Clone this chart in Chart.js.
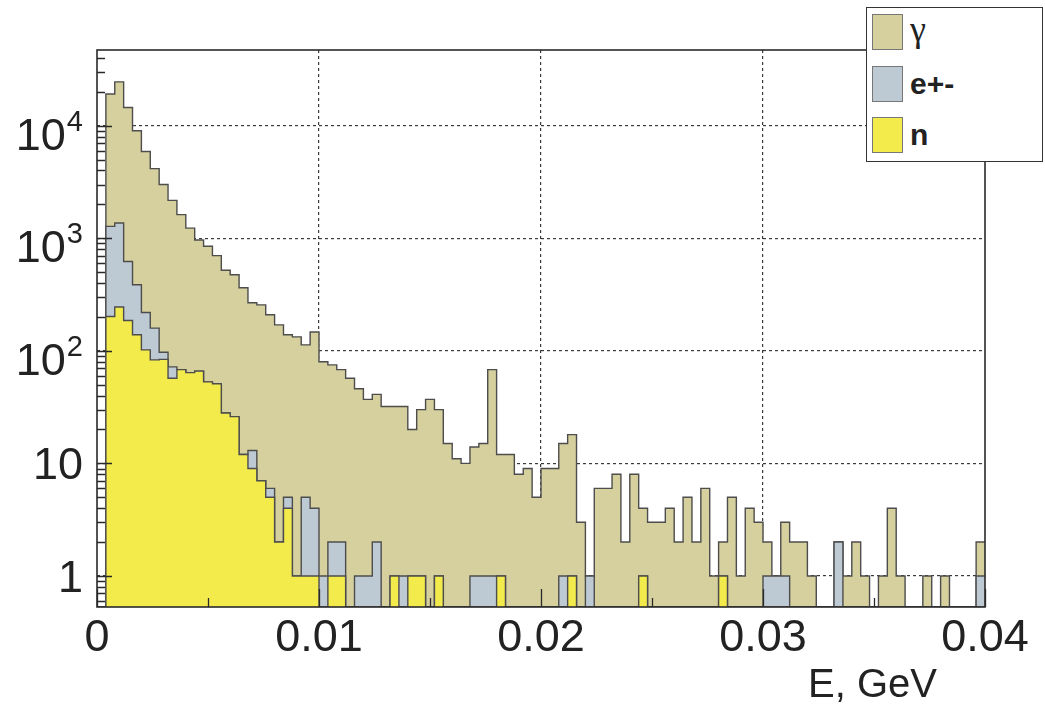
<!DOCTYPE html>
<html>
<head>
<meta charset="utf-8">
<script src="https://cdn.jsdelivr.net/npm/chart.js@4.4.1/dist/chart.umd.min.js"></script>
<style>
  html, body { margin: 0; padding: 0; background: #ffffff; }
  #wrap { position: relative; width: 1045px; height: 709px; overflow: hidden; }
  #legend { position: absolute; left: 866px; top: 7px; width: 177px; height: 155px;
            border: 1.5px solid #333; background: #fff; box-sizing: border-box; }
  .row { position: absolute; left: 5px; height: 36px; display: flex; align-items: center; }
  .sw { width: 31px; height: 36px; border: 1px solid #777; box-sizing: border-box; margin-right: 7px; }
  .lbl { font-family: 'Liberation Sans', Arial, sans-serif; font-size: 30px; font-weight: bold; color: #222; }
  .greek { font-family: 'Liberation Serif', 'DejaVu Serif', serif; font-size: 36px; font-weight: normal; color: #222; margin-top: -6px; }
  #xtitle { position: absolute; left: 808px; top: 663px; font-family: 'Liberation Sans', Arial, sans-serif;
            font-size: 40px; line-height: 1; color: #222; white-space: nowrap; }
  .ylab { position: absolute; right: 962px; font-family: 'Liberation Sans', Arial, sans-serif;
          font-size: 45px; line-height: 1; color: #222; white-space: nowrap; }
  .ylab .sup { font-size: 29px; position: relative; top: -19px; margin-left: 1px; }
</style>
</head>
<body>
<div id="wrap">
  <canvas id="c" width="1045" height="709"></canvas>
  <div id="legend"></div>
  <div id="xtitle">E, GeV</div>
</div>
<script>
// ---- data (counts per 0.0004 GeV bin, 100 bins from 0 to 0.04 GeV) ----
const BIN_WIDTH = 0.0004;
const N_BINS = 100;

const neutronCounts = [
  0, 202, 245, 186, 139, 102, 83, 84, 57, 68,
  64, 66, 53, 51, 28, 26, 12, 9, 7, 5,
  2, 4, 1, 1, 1, 0, 1, 1, 0, 0,
  0, 0, 0, 1, 0, 1, 1, 0, 1, 0,
  0, 0, 0, 0, 0, 1, 0, 0, 0, 0,
  0, 0, 0, 1, 0, 0, 0, 0, 0, 0,
  0, 1, 0, 0, 0, 0, 0, 0, 0, 0,
  1, 0, 0, 0, 0, 0, 0, 0, 0, 0,
  0, 0, 0, 0, 0, 0, 0, 0, 0, 0,
  0, 0, 0, 0, 0, 0, 0, 0, 0, 0
];

const electronCounts = [
  0, 1072, 1120, 436, 247, 117, 76, 13, 15, 0,
  0, 0, 0, 0, 0, 0, 0, 4, 0, 1,
  0, 1, 0, 4, 3, 1, 1, 1, 0, 1,
  1, 2, 0, 0, 1, 0, 0, 0, 0, 0,
  0, 0, 1, 1, 1, 0, 0, 0, 0, 0,
  0, 0, 1, 0, 0, 1, 0, 0, 0, 0,
  0, 0, 0, 0, 0, 0, 0, 0, 0, 0,
  0, 0, 0, 0, 0, 1, 1, 1, 0, 0,
  0, 0, 0, 2, 0, 0, 0, 0, 0, 0,
  0, 0, 0, 0, 0, 0, 0, 0, 0, 1
];

const gammaCounts = [
  0, 17826, 23135, 13878, 8614, 5681, 3991, 2903, 2098, 1552,
  1166, 899, 797, 649, 492, 448, 351, 254, 249, 203,
  168, 134, 132, 108, 143, 79, 73, 66, 57, 45,
  36, 39, 32, 31, 31, 19, 29, 37, 29, 15,
  11, 10, 13, 14, 67, 11, 12, 8, 9, 5,
  9, 9, 14, 17, 3, 0, 6, 6, 8, 2,
  8, 3, 3, 3, 4, 2, 5, 2, 6, 1,
  1, 5, 1, 4, 3, 1, 0, 2, 2, 2,
  1, 0, 0, 0, 1, 2, 1, 0, 1, 4,
  1, 0, 0, 1, 0, 1, 0, 0, 0, 1
];

const X_TICKS = [0, 0.01, 0.02, 0.03, 0.04];
const X_TICK_LABELS = ['0', '0.01', '0.02', '0.03', '0.04'];
const Y_TICKS = [1, 10, 100, 1000, 10000];
const Y_TICK_BASES = ['1', '10', '10', '10', '10'];
const Y_TICK_EXPONENTS = ['', '', '2', '3', '4'];

const X_MIN = 0, X_MAX = 0.04;
const Y_MIN = 0.53, Y_MAX = 47000;

// ---- styles ----
const COLOR_GAMMA = '#d5d09d';
const COLOR_ELEC = '#bdc9d3';
const COLOR_NEUT = '#f3ea4b';
const OUTLINE = '#4d4d4d';
const AXIS = '#2a2a2a';
const FONT = "'Liberation Sans', Arial, Helvetica, sans-serif";

// stacked sums (THStack style): n, n+e, n+e+gamma
const stackN = neutronCounts.slice();
const stackNE = neutronCounts.map((v, i) => v + electronCounts[i]);
const stackAll = stackNE.map((v, i) => v + gammaCounts[i]);

function stepPoints(values) {
  const pts = values.map((v, i) => ({ x: i * BIN_WIDTH, y: v > 0 ? v : Y_MIN }));
  pts.push({ x: N_BINS * BIN_WIDTH, y: pts[pts.length - 1].y });
  return pts;
}

function histDataset(label, values, color) {
  return {
    label, data: stepPoints(values),
    backgroundColor: color, borderColor: OUTLINE, borderWidth: 1.4,
    fill: 'start', stepped: 'before', pointRadius: 0, pointHoverRadius: 0,
    tension: 0
  };
}

// legend (HTML, real text)
const legendItems = [
  { text: '\u03B3', color: COLOR_GAMMA, cls: 'greek', top: 6 },
  { text: 'e+-', color: COLOR_ELEC, cls: 'lbl', top: 58 },
  { text: 'n', color: COLOR_NEUT, cls: 'lbl', top: 109 }
];
const legendEl = document.getElementById('legend');
legendItems.forEach(it => {
  const row = document.createElement('div');
  row.className = 'row';
  row.style.top = it.top + 'px';
  const sw = document.createElement('div');
  sw.className = 'sw';
  sw.style.background = it.color;
  const t = document.createElement('span');
  t.className = it.cls;
  t.textContent = it.text;
  row.appendChild(sw); row.appendChild(t);
  legendEl.appendChild(row);
});

// y tick labels as real text with superscripts, placed through the chart's y scale
const yLabels = {
  id: 'yLabels',
  afterDraw(chart) {
    if (chart.$yLabelsDone) return;
    chart.$yLabelsDone = true;
    const wrap = document.getElementById('wrap');
    const y = chart.scales.y;
    Y_TICKS.forEach((v, i) => {
      const py = y.getPixelForValue(v);
      const el = document.createElement('div');
      el.className = 'ylab';
      const hasExp = Y_TICK_EXPONENTS[i] !== '';
      el.style.top = (py - 22 + (hasExp ? 8 : 0)) + 'px';
      el.appendChild(document.createTextNode(Y_TICK_BASES[i]));
      if (hasExp) {
        const s = document.createElement('span');
        s.className = 'sup';
        s.textContent = Y_TICK_EXPONENTS[i];
        el.appendChild(s);
      }
      wrap.appendChild(el);
    });
  }
};

// frame + inward tick marks (ROOT style), drawn over the histograms
const frameTicks = {
  id: 'frameTicks',
  afterDatasetsDraw(chart) {
    const { ctx, chartArea: a, scales: { x, y } } = chart;
    ctx.save();
    ctx.strokeStyle = AXIS;
    ctx.lineWidth = 1.3;
    ctx.beginPath();
    for (let d = -1; d <= 4; d++) {
      for (let m = 1; m <= 9; m++) {
        const v = m * Math.pow(10, d);
        if (v < Y_MIN || v > Y_MAX) continue;
        const py = Math.round(y.getPixelForValue(v)) + 0.5;
        const len = m === 1 ? 15 : 8;
        ctx.moveTo(a.left, py); ctx.lineTo(a.left + len, py);
      }
    }
    for (let k = 0; k <= 8; k++) {
      const v = k * 0.005;
      const px = Math.round(x.getPixelForValue(v)) + 0.5;
      const len = k % 2 === 0 ? 18 : 9;
      ctx.moveTo(px, a.bottom); ctx.lineTo(px, a.bottom - len);
    }
    ctx.stroke();
    ctx.lineWidth = 1.6;
    ctx.strokeRect(a.left, a.top, a.right - a.left, a.bottom - a.top);
    ctx.restore();
  }
};

new Chart(document.getElementById('c'), {
  type: 'line',
  data: {
    datasets: [
      histDataset('n', stackN, COLOR_NEUT),
      histDataset('e+-', stackNE, COLOR_ELEC),
      histDataset('\u03B3', stackAll, COLOR_GAMMA)
    ]
  },
  options: {
    responsive: false,
    animation: false,
    events: [],
    layout: { padding: { left: 0, right: 60, top: 50, bottom: 0 } },
    plugins: { legend: { display: false }, tooltip: { enabled: false } },
    scales: {
      x: {
        type: 'linear', min: X_MIN, max: X_MAX,
        afterBuildTicks: s => { s.ticks = X_TICKS.map(v => ({ value: v })); },
        afterFit: s => { s.height = 102; },
        ticks: {
          autoSkip: false, maxRotation: 0, padding: 5, color: '#222',
          font: { family: FONT, size: 45 },
          callback: (v, i) => X_TICK_LABELS[i]
        },
        grid: {
          drawTicks: false, lineWidth: 1.2,
          color: c => (c.tick && (c.tick.value === X_MIN || c.tick.value === X_MAX)) ? 'rgba(0,0,0,0)' : '#3a3a3a'
        },
        border: { display: false, dash: [3, 3] }
      },
      y: {
        type: 'logarithmic', min: Y_MIN, max: Y_MAX,
        afterBuildTicks: s => { s.ticks = Y_TICKS.map(v => ({ value: v, major: true })); },
        afterFit: s => { s.width = 97; },
        ticks: { display: false, autoSkip: false },
        grid: { drawTicks: false, lineWidth: 1.2, color: '#3a3a3a' },
        border: { display: false, dash: [3, 3] }
      }
    }
  },
  plugins: [frameTicks, yLabels]
});
</script>
</body>
</html>
